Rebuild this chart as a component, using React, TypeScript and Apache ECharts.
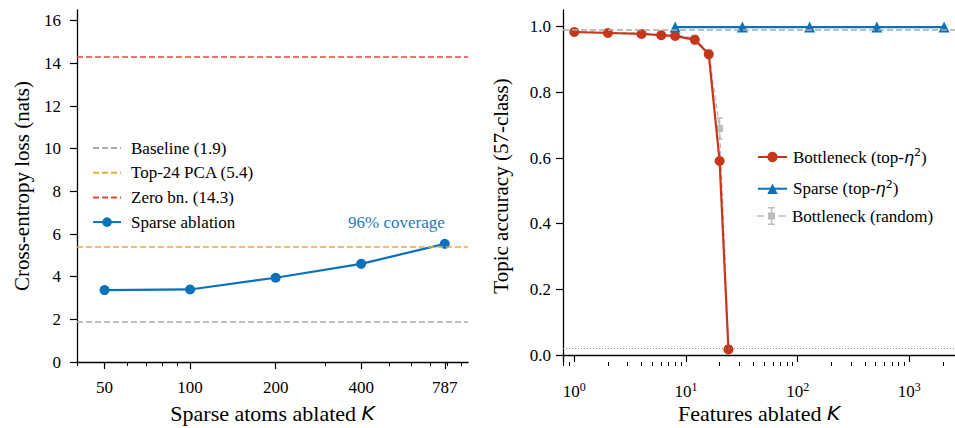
import React, { useEffect, useRef } from 'react';
import * as echarts from 'echarts';

// ---------- data ----------
const sparseK = [50, 100, 200, 400, 787];
const sparseLoss = [3.37, 3.4, 3.95, 4.6, 5.54];
const baselineLoss = 1.9;
const pcaLoss = 5.4;
const zeroLoss = 14.3;
const coverageLabel = '96% coverage';
const coverageAnchor = [787, 6.55];

const leftMajorTicks = [50, 100, 200, 400, 787];
const leftMinorTicks = [40, 60, 70, 80, 90, 300, 500, 600, 700, 800, 900];
const leftYTicks = [0, 2, 4, 6, 8, 10, 12, 14, 16];

const bnK = [1, 2, 4, 6, 8, 12, 16, 20, 24];
const bnAcc = [0.984, 0.981, 0.978, 0.974, 0.972, 0.96, 0.916, 0.591, 0.017];
const rndAcc = [0.985, 0.983, 0.98, 0.977, 0.975, 0.965, 0.92, 0.69, 0.02];
const rndErr = [0.002, 0.002, 0.003, 0.003, 0.004, 0.005, 0.008, 0.032, 0.005];
const spK = [8, 32, 128, 512, 2048];
const spAcc = [0.999, 0.999, 0.999, 0.999, 0.999];
const fullAcc = 0.987;
const chanceAcc = 1 / 57;

const rightMajorTicks = [1, 10, 100, 1000];
const rightMinorTicks = [0.8, 0.9, 2, 3, 4, 5, 6, 7, 8, 9, 20, 30, 40, 50, 60, 70, 80, 90, 200, 300, 400, 500, 600, 700, 800, 900, 2000];
const rightYTicks = [0, 0.2, 0.4, 0.6, 0.8, 1.0];

// ---------- style ----------
const FONT = "'Liberation Serif', 'Times New Roman', serif";
const MATH = "'DejaVu Sans', sans-serif";
const BLUE = '#0a72b8';
const RED = '#c8361a';
const GRAY = '#aaaaaa';
const LGRAY = '#bdbdbd';
const ORANGE = '#eba83a';
const ZRED = '#de4a33';
const TICK = 17;

const axisLine = { show: true, lineStyle: { color: '#000', width: 1.3 } };

export default function App() {
  const ref = useRef<HTMLDivElement>(null);
  useEffect(() => {
    if (!ref.current) return;
    const chart = echarts.init(ref.current, null, { renderer: 'svg' });
    const kRich = {
      t: { fontFamily: FONT, fontSize: 22, color: '#000' },
      k: { fontFamily: MATH, fontStyle: 'italic', fontSize: 20, color: '#000' },
    };
    const legRich = {
      t: { fontFamily: FONT, fontSize: 17, lineHeight: 20, color: '#000' },
      i: { fontFamily: MATH, fontStyle: 'italic', fontSize: 16, lineHeight: 20, color: '#000' },
      s: { fontFamily: MATH, fontSize: 11, lineHeight: 10, verticalAlign: 'top', color: '#000' },
    };
    const option: any = {
      animation: false,
      backgroundColor: '#fff',
      textStyle: { fontFamily: FONT },
      grid: [
        { left: 77, top: 10, width: 391, height: 352, containLabel: false, outerBoundsMode: 'none' },
        { left: 563, top: 10, width: 392, height: 352, containLabel: false, outerBoundsMode: 'none' },
      ],
      xAxis: [
        {
          type: 'log', gridIndex: 0, position: 'bottom', min: 40, max: 950, logBase: 10,
          axisLine,
          axisTick: { show: true, customValues: leftMajorTicks, length: 7, lineStyle: { color: '#000', width: 1.2 } },
          axisLabel: { customValues: leftMajorTicks, formatter: (v: number) => String(Math.round(v)), fontSize: TICK, color: '#000', margin: 17, fontFamily: FONT },
          splitLine: { show: false },
          name: '{t|Sparse atoms ablated }{k|K}', nameLocation: 'middle', nameGap: 40, nameMoveOverlap: false,
          nameTextStyle: { rich: kRich },
        },
        {
          type: 'log', gridIndex: 0, position: 'bottom', min: 40, max: 950, logBase: 10,
          axisLine: { show: false },
          axisTick: { show: true, customValues: leftMinorTicks, length: 4, lineStyle: { color: '#000', width: 1 } },
          axisLabel: { show: false },
          splitLine: { show: false },
        },
        {
          type: 'log', gridIndex: 1, position: 'bottom', min: 0.792, max: 2565, logBase: 10,
          axisLine,
          axisTick: { show: true, customValues: rightMajorTicks, length: 7, lineStyle: { color: '#000', width: 1.2 } },
          axisLabel: {
            customValues: rightMajorTicks, margin: 19,
            formatter: (v: number) => `{b|10}{s|${Math.round(Math.log10(v))}}`,
            rich: {
              b: { fontFamily: FONT, fontSize: TICK, lineHeight: 20, color: '#000' },
              s: { fontFamily: FONT, fontSize: 12, lineHeight: 4, verticalAlign: 'top', color: '#000' },
            },
          },
          splitLine: { show: false },
          name: '{t|Features ablated }{k|K}', nameLocation: 'middle', nameGap: 40, nameMoveOverlap: false,
          nameTextStyle: { rich: kRich },
        },
        {
          type: 'log', gridIndex: 1, position: 'bottom', min: 0.792, max: 2565, logBase: 10,
          axisLine: { show: false },
          axisTick: { show: true, customValues: rightMinorTicks, length: 4, lineStyle: { color: '#000', width: 1 } },
          axisLabel: { show: false },
          splitLine: { show: false },
        },
      ],
      yAxis: [
        {
          type: 'value', gridIndex: 0, min: 0, max: 16.5,
          axisLine,
          axisTick: { show: true, customValues: leftYTicks, length: 7, lineStyle: { color: '#000', width: 1.2 } },
          axisLabel: { customValues: leftYTicks, fontSize: TICK, color: '#000', margin: 16, fontFamily: FONT },
          splitLine: { show: false },
          name: 'Cross-entropy loss (nats)', nameLocation: 'middle', nameGap: 45, nameRotate: 90, nameMoveOverlap: false,
          nameTextStyle: { fontFamily: FONT, fontSize: 21, color: '#000' },
        },
        {
          type: 'value', gridIndex: 1, min: -0.0213, max: 1.051,
          axisLine,
          axisTick: { show: true, customValues: rightYTicks, length: 7, lineStyle: { color: '#000', width: 1.2 } },
          axisLabel: { customValues: rightYTicks, formatter: (v: number) => v.toFixed(1), fontSize: TICK, color: '#000', margin: 12, fontFamily: FONT },
          splitLine: { show: false },
          name: 'Topic accuracy (57-class)', nameLocation: 'middle', nameGap: 52, nameRotate: 90, nameMoveOverlap: false,
          nameTextStyle: { fontFamily: FONT, fontSize: 21, color: '#000' },
        },
      ],
      legend: [
        {
          orient: 'vertical', left: 92, top: 139, padding: 0, itemGap: 6.7,
          itemWidth: 28, itemHeight: 12, selectedMode: false,
          textStyle: { fontFamily: FONT, fontSize: 17, lineHeight: 18, color: '#000', padding: [0, 0, 0, 5] },
          data: [
            { name: 'Baseline (1.9)', itemStyle: { opacity: 0 } },
            { name: 'Top-24 PCA (5.4)', itemStyle: { opacity: 0 } },
            { name: 'Zero bn. (14.3)', itemStyle: { opacity: 0 } },
            { name: 'Sparse ablation' },
          ],
        },
        {
          orient: 'vertical', left: 757, top: 147, padding: 0,
          itemWidth: 29, itemHeight: 13, selectedMode: false,
          formatter: () => '{t|Bottleneck (top-}{i|η}{s|2}{t|)}',
          textStyle: { rich: legRich, padding: [0, 0, 0, 1] },
          data: ['Bottleneck (top-η²)'],
        },
        {
          orient: 'vertical', left: 757, top: 178.7, padding: 0,
          itemWidth: 29, itemHeight: 13, selectedMode: false,
          formatter: () => '{t|Sparse (top-}{i|η}{s|2}{t|)}',
          textStyle: { rich: legRich, padding: [0, 0, 0, 1] },
          data: ['Sparse (top-η²)'],
        },
        {
          orient: 'vertical', left: 757, top: 206, padding: 0,
          itemWidth: 29, itemHeight: 18, selectedMode: false,
          textStyle: { fontFamily: FONT, fontSize: 17, lineHeight: 20, color: '#000', padding: [0, 0, 0, 1] },
          data: [{
            name: 'Bottleneck (random)',
            icon: 'path://M0,8.25h7v1.5h-7z M22,8.25h7v1.5h-7z M11,5.5h7v7h-7z M13.75,0h1.5v18h-1.5z M11,0h7v1.5h-7z M11,16.5h7v1.5h-7z',
          }],
        },
      ],
      series: [
        {
          name: 'Baseline (1.9)', type: 'line', xAxisIndex: 0, yAxisIndex: 0, data: [], z: 1,
          color: GRAY, lineStyle: { color: GRAY, width: 1.5, type: [6, 3] },
          markLine: { silent: true, symbol: ['none', 'none'], label: { show: false }, lineStyle: { color: GRAY, width: 1.5, type: [6, 3] }, data: [{ yAxis: baselineLoss }] },
        },
        {
          name: 'Top-24 PCA (5.4)', type: 'line', xAxisIndex: 0, yAxisIndex: 0, data: [], z: 1,
          color: ORANGE, lineStyle: { color: ORANGE, width: 1.5, type: [6, 3] },
          markLine: { silent: true, symbol: ['none', 'none'], label: { show: false }, lineStyle: { color: ORANGE, width: 1.5, type: [6, 3] }, data: [{ yAxis: pcaLoss }] },
        },
        {
          name: 'Zero bn. (14.3)', type: 'line', xAxisIndex: 0, yAxisIndex: 0, data: [], z: 1,
          color: ZRED, lineStyle: { color: ZRED, width: 1.5, type: [6, 3] },
          markLine: { silent: true, symbol: ['none', 'none'], label: { show: false }, lineStyle: { color: ZRED, width: 1.5, type: [6, 3] }, data: [{ yAxis: zeroLoss }] },
        },
        {
          name: 'Sparse ablation', type: 'line', xAxisIndex: 0, yAxisIndex: 0, z: 3,
          data: sparseK.map((k, i) => [k, sparseLoss[i]]),
          color: BLUE, symbol: 'circle', symbolSize: 10,
          lineStyle: { color: BLUE, width: 2.2 }, itemStyle: { color: BLUE },
          markPoint: {
            silent: true, symbol: 'circle', symbolSize: 0,
            label: { show: true, formatter: coverageLabel, position: 'left', distance: 0, color: '#1a7cc0', fontSize: 17, fontFamily: FONT },
            data: [{ coord: coverageAnchor }],
          },
        },
        {
          name: 'refs', type: 'line', xAxisIndex: 2, yAxisIndex: 1, data: [], z: 1,
          markLine: {
            silent: true, symbol: ['none', 'none'], label: { show: false },
            data: [
              { yAxis: fullAcc, lineStyle: { color: GRAY, width: 1.5, type: [6, 3] } },
              { yAxis: chanceAcc, lineStyle: { color: '#888', width: 1, type: [1, 2] } },
            ],
          },
        },
        {
          name: 'Bottleneck (random)', type: 'line', xAxisIndex: 2, yAxisIndex: 1, z: 2,
          data: bnK.map((k, i) => [k, rndAcc[i]]),
          color: LGRAY, symbol: 'rect', symbolSize: 7,
          lineStyle: { color: LGRAY, width: 1.5, type: [5, 3] }, itemStyle: { color: LGRAY },
        },
        {
          name: 'rnd-err', type: 'custom', xAxisIndex: 2, yAxisIndex: 1, z: 2,
          data: bnK.map((k, i) => [k, rndAcc[i], rndErr[i]]),
          encode: { x: 0, y: 1 },
          renderItem: (params: any, api: any) => {
            const x = api.value(0), y = api.value(1), e = api.value(2);
            const p1 = api.coord([x, y + e]);
            const p2 = api.coord([x, y - e]);
            const cw = 3;
            const style = { stroke: LGRAY, lineWidth: 1.5 };
            return {
              type: 'group', children: [
                { type: 'line', shape: { x1: p1[0], y1: p1[1], x2: p2[0], y2: p2[1] }, style },
                { type: 'line', shape: { x1: p1[0] - cw, y1: p1[1], x2: p1[0] + cw, y2: p1[1] }, style },
                { type: 'line', shape: { x1: p2[0] - cw, y1: p2[1], x2: p2[0] + cw, y2: p2[1] }, style },
              ],
            };
          },
        },
        {
          name: 'Bottleneck (top-η²)', type: 'line', xAxisIndex: 2, yAxisIndex: 1, z: 3,
          data: bnK.map((k, i) => [k, bnAcc[i]]),
          color: RED, symbol: 'circle', symbolSize: 10,
          lineStyle: { color: RED, width: 2.2 }, itemStyle: { color: RED },
        },
        {
          name: 'Sparse (top-η²)', type: 'line', xAxisIndex: 2, yAxisIndex: 1, z: 3,
          data: spK.map((k, i) => [k, spAcc[i]]),
          color: BLUE, symbol: 'triangle', symbolSize: 11,
          lineStyle: { color: BLUE, width: 2.2 }, itemStyle: { color: BLUE },
        },
      ],
    };
    chart.setOption(option);
    return () => chart.dispose();
  }, []);
  return <div ref={ref} style={{ position: 'absolute', left: 0, top: 0, width: 955, height: 428 }} />;
}
